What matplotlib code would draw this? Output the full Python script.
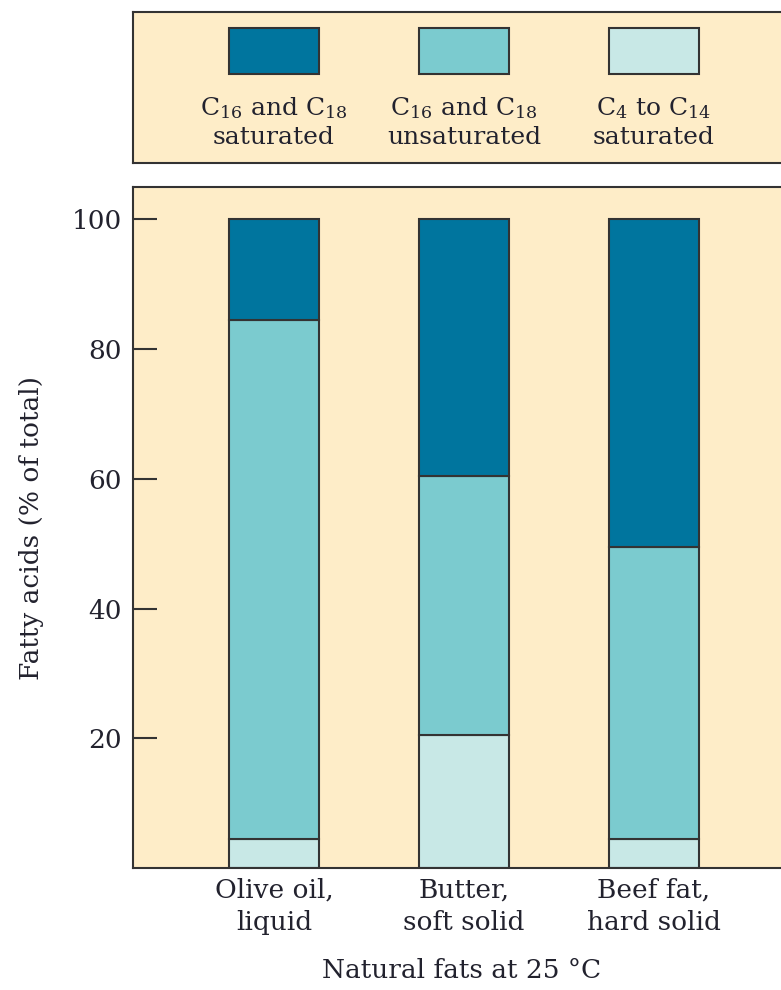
import matplotlib
matplotlib.use('Agg')
import matplotlib.pyplot as plt
from matplotlib.patches import Rectangle

plt.rcParams['font.family'] = 'DejaVu Serif'
plt.rcParams['mathtext.fontset'] = 'dejavuserif'

fats = ['Olive oil,\nliquid', 'Butter,\nsoft solid', 'Beef fat,\nhard solid']
short_sat = [4.5, 20.5, 4.5]        # C4 to C14 saturated
long_unsat = [80.0, 40.0, 45.0]     # C16 and C18 unsaturated
long_sat = [15.5, 39.5, 50.5]       # C16 and C18 saturated

series_labels = [r'C$_{16}$ and C$_{18}$' + '\nsaturated',
                 r'C$_{16}$ and C$_{18}$' + '\nunsaturated',
                 r'C$_{4}$ to C$_{14}$' + '\nsaturated']
yticks = [20, 40, 60, 80, 100]

bg = '#FEEDC8'
c_dark = '#00759E'
c_mid = '#7BCBCF'
c_light = '#C8E8E6'
edge = '#333333'
text_col = '#22222e'

fig = plt.figure(figsize=(7.81, 9.9), dpi=100)

xlim = (-0.742, 2.716)
width = 0.474
x = list(range(len(fats)))
ax_left, ax_w = 0.1703, 0.841

# main axes
ax = fig.add_axes([ax_left, 0.1232, ax_w, 0.6879])
ax.set_facecolor(bg)
ax.bar(x, short_sat, width=width, color=c_light, edgecolor=edge, linewidth=1.5)
ax.bar(x, long_unsat, width=width, bottom=short_sat, color=c_mid,
       edgecolor=edge, linewidth=1.5)
bottom2 = [a + b for a, b in zip(short_sat, long_unsat)]
ax.bar(x, long_sat, width=width, bottom=bottom2, color=c_dark,
       edgecolor=edge, linewidth=1.5)
ax.set_xlim(*xlim)
ax.set_ylim(0, 105)
ax.set_yticks(yticks)
ax.set_yticklabels([str(t) for t in yticks], fontsize=19, color=text_col)
ax.tick_params(axis='y', direction='in', length=17, width=1.5, color=edge, pad=8)
ax.set_xticks(x)
ax.set_xticklabels(fats, fontsize=19, color=text_col, linespacing=1.35)
ax.tick_params(axis='x', length=0, pad=7)
for s in ax.spines.values():
    s.set_color(edge)
    s.set_linewidth(1.5)
ax.set_xlabel('Natural fats at 25 °C', fontsize=19, color=text_col, labelpad=17)
ax.set_ylabel('Fatty acids (% of total)', fontsize=19, color=text_col, labelpad=20)

# legend panel
lg = fig.add_axes([ax_left, 0.8354, ax_w, 0.1525])
lg.set_facecolor(bg)
lg.set_xlim(*xlim)
lg.set_ylim(0, 1)
lg.set_xticks([])
lg.set_yticks([])
for s in lg.spines.values():
    s.set_color(edge)
    s.set_linewidth(1.5)
for i, (col, lab) in enumerate(zip([c_dark, c_mid, c_light], series_labels)):
    lg.add_patch(Rectangle((i - width / 2, 0.589), width, 0.305,
                           facecolor=col, edgecolor=edge, linewidth=1.5))
    lg.text(i, 0.27, lab, ha='center', va='center', fontsize=18,
            color=text_col, linespacing=1.3)

fig.savefig('out.png', dpi=100, facecolor='white')
